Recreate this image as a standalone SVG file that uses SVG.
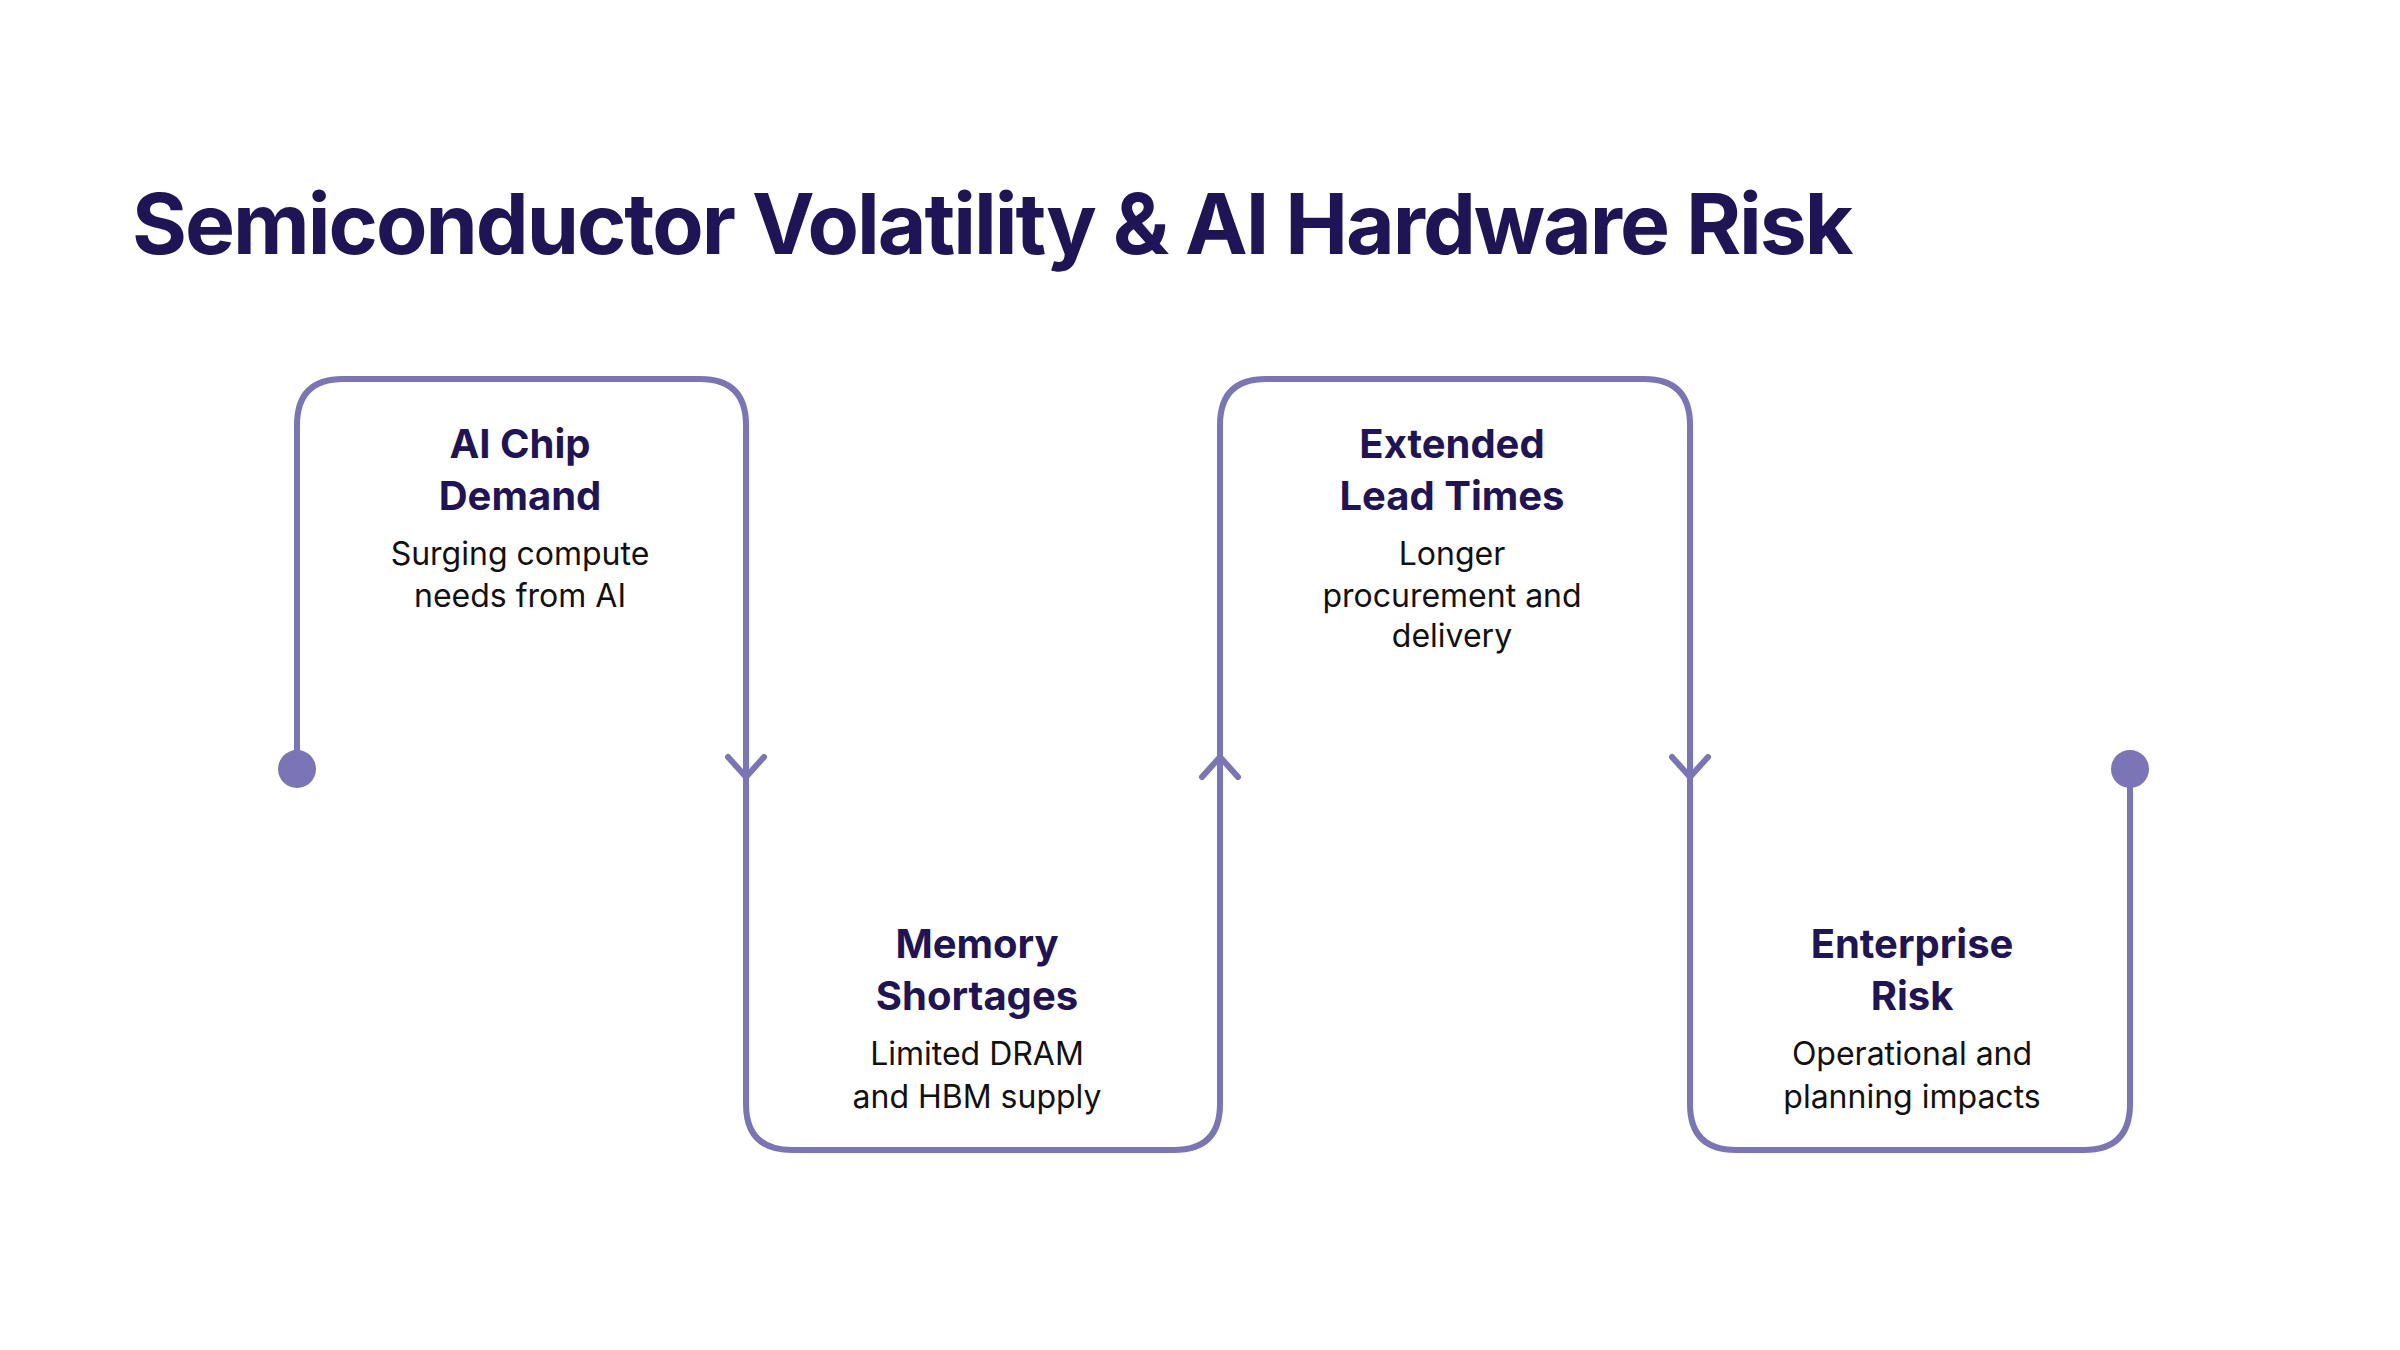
<svg xmlns="http://www.w3.org/2000/svg" width="2400" height="1350" viewBox="0 0 2400 1350">
<style>
.t{font-family:Inter,"Liberation Sans",sans-serif;font-weight:700;fill:#1e1456}
.h{font-family:Inter,"Liberation Sans",sans-serif;font-weight:700;font-size:40px;fill:#1e1456;text-anchor:middle}
.d{font-family:Inter,"Liberation Sans",sans-serif;font-size:32px;fill:#111;text-anchor:middle}
.ln{fill:none;stroke:#7b74b6;stroke-width:6;stroke-linecap:round;stroke-linejoin:round}
</style>
<rect width="2400" height="1350" fill="#fff"/>
<text class="t" x="132" y="254" font-size="84" letter-spacing="-2">Semiconductor Volatility &amp; AI Hardware Risk</text>
<g id="connectors">
<path class="ln" d="M297 769 V425 Q297 379 343 379 H700 Q746 379 746 425 V1104 Q746 1150 792 1150 H1174 Q1220 1150 1220 1104 V425 Q1220 379 1266 379 H1644 Q1690 379 1690 425 V1104 Q1690 1150 1736 1150 H2084 Q2130 1150 2130 1104 V769"/>
<path class="ln" d="M728 757 L746 777 L764 757"/>
<path class="ln" d="M1202 777 L1220 757 L1238 777"/>
<path class="ln" d="M1672 757 L1690 777 L1708 757"/>
<circle cx="297" cy="769" r="19" fill="#7b74b6"/>
<circle cx="2130" cy="769" r="19" fill="#7b74b6"/>
</g>
<g id="n1"><text class="h" x="520" y="458">AI Chip</text><text class="h" x="520" y="510">Demand</text><text class="d" x="520" y="565">Surging compute</text><text class="d" x="520" y="607">needs from AI</text></g>
<g id="n2"><text class="h" x="977" y="958">Memory</text><text class="h" x="977" y="1010">Shortages</text><text class="d" x="977" y="1065">Limited DRAM</text><text class="d" x="977" y="1108">and HBM supply</text></g>
<g id="n3"><text class="h" x="1452" y="458">Extended</text><text class="h" x="1452" y="510">Lead Times</text><text class="d" x="1452" y="565">Longer</text><text class="d" x="1452" y="607">procurement and</text><text class="d" x="1452" y="647">delivery</text></g>
<g id="n4"><text class="h" x="1912" y="958">Enterprise</text><text class="h" x="1912" y="1010">Risk</text><text class="d" x="1912" y="1065">Operational and</text><text class="d" x="1912" y="1108">planning impacts</text></g>
</svg>
